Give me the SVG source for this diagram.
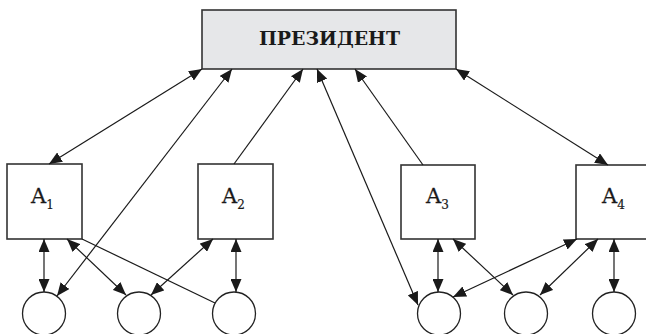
<svg xmlns="http://www.w3.org/2000/svg" width="646" height="334" viewBox="0 0 646 334">
<style>
.box{fill:#fff;stroke:#333;stroke-width:1.6}
.pres{fill:#e6e7e9;stroke:#333;stroke-width:1.6}
.circ{fill:#fff;stroke:#222;stroke-width:1.3}
.lbl{font-family:"DejaVu Serif","Liberation Serif",serif;font-size:21px;fill:#1a1a1a;stroke:#1a1a1a;stroke-width:0.3}
.sub{font-size:12px;stroke-width:0.2}
.ttl{font-family:"DejaVu Serif","Liberation Serif",serif;font-size:19px;font-weight:bold;fill:#1a1a1a}
#connectors line{stroke:#1a1a1a;stroke-width:1.2;fill:none}
.a2{marker-start:url(#ah);marker-end:url(#ah)}
.a1{marker-end:url(#ah)}
</style>
<defs>
<marker id="ah" markerUnits="userSpaceOnUse" markerWidth="13" markerHeight="11" refX="13" refY="5.5" orient="auto-start-reverse">
<path d="M0,0 L13,5.5 L0,11 z" fill="#1a1a1a"/>
</marker>
</defs>
<rect width="646" height="334" fill="#fff"/>
<g id="president">
<rect class="pres" x="202" y="10" width="254" height="59"/>
<text class="ttl" x="329.5" y="45" text-anchor="middle" textLength="141" lengthAdjust="spacingAndGlyphs">ПРЕЗИДЕНТ</text>
</g>
<g id="A1">
<rect class="box" x="7" y="164" width="75" height="75"/>
<text class="lbl" x="31" y="203">A<tspan class="sub" dy="6">1</tspan></text>
</g>
<g id="A2">
<rect class="box" x="198" y="164" width="75" height="75"/>
<text class="lbl" x="222" y="203">A<tspan class="sub" dy="6">2</tspan></text>
</g>
<g id="A3">
<rect class="box" x="401" y="165" width="74" height="74"/>
<text class="lbl" x="426" y="203">A<tspan class="sub" dy="6">3</tspan></text>
</g>
<g id="A4">
<rect class="box" x="576" y="165" width="75" height="74"/>
<text class="lbl" x="602" y="203">A<tspan class="sub" dy="6">4</tspan></text>
</g>
<g id="c1"><circle class="circ" cx="44" cy="313.5" r="21.5"/></g>
<g id="c2"><circle class="circ" cx="139" cy="313.5" r="21.5"/></g>
<g id="c3"><circle class="circ" cx="234" cy="313.5" r="21.5"/></g>
<g id="c4"><circle class="circ" cx="439" cy="313.5" r="21.5"/></g>
<g id="c5"><circle class="circ" cx="526" cy="313.5" r="21.5"/></g>
<g id="c6"><circle class="circ" cx="614" cy="313.5" r="21.5"/></g>
<g id="connectors">
<line class="a2" x1="49" y1="164" x2="202" y2="69"/>
<line class="a2" x1="57" y1="296" x2="232" y2="69"/>
<line class="a1" x1="234" y1="164" x2="303" y2="69"/>
<line class="a2" x1="418" y1="305" x2="317" y2="69"/>
<line class="a1" x1="423" y1="165" x2="355" y2="69"/>
<line class="a2" x1="456" y1="69" x2="608" y2="165"/>
<line class="a2" x1="44" y1="239" x2="44" y2="292"/>
<line class="a2" x1="67" y1="239" x2="126" y2="295"/>
<line x1="82" y1="239" x2="215" y2="303"/>
<line class="a2" x1="213" y1="239" x2="151" y2="295"/>
<line class="a2" x1="236" y1="239" x2="236" y2="292"/>
<line class="a2" x1="438" y1="239" x2="438" y2="292"/>
<line class="a2" x1="453" y1="239" x2="513" y2="295"/>
<line class="a2" x1="577" y1="239" x2="453" y2="297"/>
<line class="a2" x1="598" y1="239" x2="540" y2="295"/>
<line class="a2" x1="614" y1="239" x2="614" y2="292"/>
</g>
</svg>
